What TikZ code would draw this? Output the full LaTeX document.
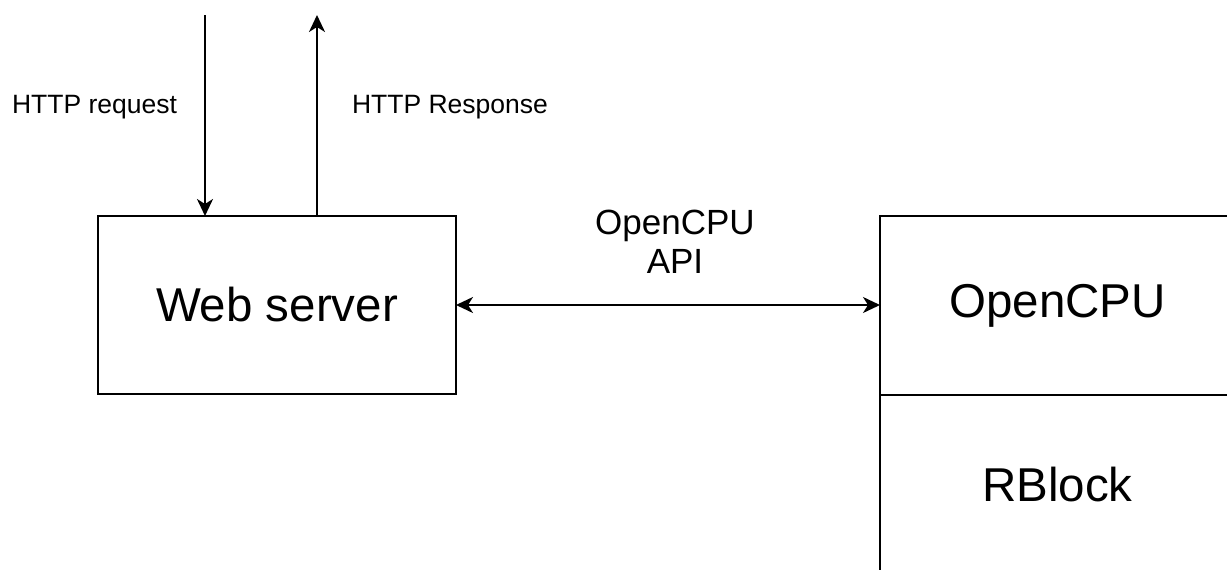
\documentclass[tikz,border=0pt]{standalone}
\usepackage{fontspec}
\setmainfont{Liberation Sans}
\usetikzlibrary{arrows.meta}
\begin{document}
\begin{tikzpicture}[x=1pt,y=-1pt,
  tip/.tip={Stealth[length=17pt,width=16pt,inset=5pt]},
  box/.style={draw=black, line width=2pt, fill=white, inner sep=0pt, outer sep=0pt},
  conn/.style={draw=black, line width=2pt, -tip},
  small/.style={font=\fontsize{26.5}{32}\selectfont, inner sep=0pt, anchor=base},
  mid/.style={font=\fontsize{35}{39}\selectfont, inner sep=0pt, align=center},
  big/.style={font=\fontsize{47.5}{56}\selectfont}]
\useasboundingbox (0,0) rectangle (1227,570);
\clip (0,0) rectangle (1227,570);
\fill[white] (0,0) rectangle (1227,570);
% boxes
\node[box, minimum width=358pt, minimum height=178pt, big] (web) at (277,305) {Web server};
\node[box, minimum width=355pt, minimum height=179pt, big] (ocpu) at (1057.5,305.5) {OpenCPU};
\node[box, minimum width=355pt, minimum height=180pt, big] (rblock) at (1057.5,485) {RBlock};
% free ends
\coordinate (reqstart) at (205,15);
\coordinate (resend) at (317,15);
% connectors
\draw[conn] (reqstart) -- (reqstart |- web.north);
\draw[conn] (resend |- web.north) -- (resend);
\draw[conn, tip-tip] (web.east) -- (web.east -| ocpu.west);
% labels
\node[small] (reqlabel) at (94.5,113) {HTTP request};
\node[small] (reslabel) at (450,113) {HTTP Response};
\node[mid, anchor=base] (apilabel) at (675,273) {OpenCPU\\API};
\end{tikzpicture}
\end{document}
